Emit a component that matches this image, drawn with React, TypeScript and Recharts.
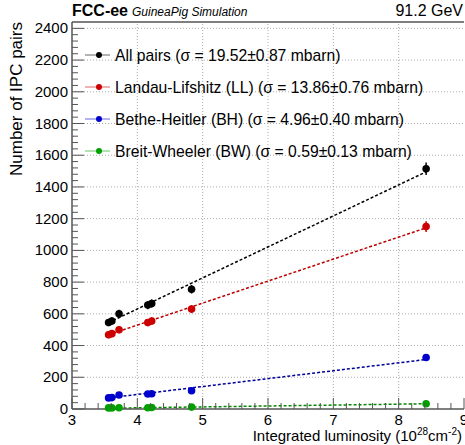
import {
  ComposedChart,
  Scatter,
  Line,
  XAxis,
  YAxis,
  ErrorBar,
  ReferenceLine,
} from "recharts";

// integrated luminosity of each run (10^28 cm^-2)
const lumi = [3.56, 3.61, 3.72, 4.16, 4.22, 4.83, 8.42];

const allPairs = [545, 555, 600, 655, 665, 755, 1515];
const allErr = [23, 24, 25, 26, 26, 27, 39];
const llPairs = [468, 475, 500, 545, 555, 630, 1150];
const llErr = [22, 22, 22, 23, 24, 25, 34];
const bhPairs = [70, 72, 88, 95, 96, 115, 325];
const bhErr = [8, 8, 9, 10, 10, 11, 18];
const bwPairs = [7, 7, 8, 8, 9, 12, 33];
const bwErr = [3, 3, 3, 3, 3, 3, 6];

// fit line end points (first and last luminosity)
const fitX = [3.56, 8.42];
const fitAll = [545, 1495];
const fitLL = [468, 1142];
const fitBH = [70, 312];
const fitBW = [5, 33];

const legendLabels = [
  "All pairs (σ = 19.52±0.87 mbarn)",
  "Landau-Lifshitz (LL) (σ = 13.86±0.76 mbarn)",
  "Bethe-Heitler (BH) (σ = 4.96±0.40 mbarn)",
  "Breit-Wheeler (BW) (σ = 0.59±0.13 mbarn)",
];
const colors = ["#000000", "#cc0000", "#0000cc", "#00a000"];
const fitColors = ["#000000", "#bb0000", "#000099", "#008800"];

const xMajor = [4, 5, 6, 7, 8];
const yMajor = [200, 400, 600, 800, 1000, 1200, 1400, 1600, 1800, 2000, 2200, 2400];
const xTicks = Array.from({ length: 31 }, (_, i) => Math.round((3 + i * 0.2) * 10) / 10);
const yTicks = Array.from({ length: 61 }, (_, i) => i * 40);

const toPoints = (ys: number[], es: number[]) =>
  lumi.map((x, i) => ({ x, y: ys[i], e: es[i] }));
const toFit = (ys: number[]) => fitX.map((x, i) => ({ x, y: ys[i] }));

const series = [
  { pts: toPoints(allPairs, allErr), fit: toFit(fitAll) },
  { pts: toPoints(llPairs, llErr), fit: toFit(fitLL) },
  { pts: toPoints(bhPairs, bhErr), fit: toFit(fitBH) },
  { pts: toPoints(bwPairs, bwErr), fit: toFit(fitBW) },
];

const FONT = "'Liberation Sans', Arial, Helvetica, sans-serif";
const AXIS = "#555";

function XTick(props: any) {
  const { x, y, payload } = props;
  const v = payload.value;
  const major = Math.abs(v - Math.round(v)) < 1e-6;
  return (
    <g>
      <line x1={x} x2={x} y1={y} y2={y - (major ? 11 : 6)} stroke={AXIS} />
      {major && (
        <text x={x} y={y + 16} textAnchor="middle" fontSize={15} fill="#000" fontFamily={FONT}>
          {Math.round(v)}
        </text>
      )}
    </g>
  );
}

function YTick(props: any) {
  const { x, y, payload } = props;
  const v = payload.value;
  const major = v % 200 === 0;
  return (
    <g>
      <line x1={x} x2={x + (major ? 12 : 6)} y1={y} y2={y} stroke={AXIS} />
      {major && (
        <text x={x - 4} y={y + 5} textAnchor="end" fontSize={15} fill="#000" fontFamily={FONT}>
          {v}
        </text>
      )}
    </g>
  );
}

export default function App() {
  const dot = (c: string) => (p: any) => <circle cx={p.cx} cy={p.cy} r={3.8} fill={c} />;
  return (
    <div style={{ position: "absolute", left: 0, top: 0, width: 465, height: 445, background: "#fff", fontFamily: FONT }}>
      <ComposedChart width={465} height={445} margin={{ top: 22, right: 1, bottom: 6, left: 12 }}>
        <XAxis
          dataKey="x"
          type="number"
          domain={[3, 9]}
          ticks={xTicks}
          interval={0}
          tickSize={0}
          tickMargin={0}
          height={30}
          tick={<XTick />}
          axisLine={{ stroke: AXIS, strokeWidth: 1.5 }}
        />
        <YAxis
          dataKey="y"
          type="number"
          domain={[0, 2440]}
          ticks={yTicks}
          interval={0}
          tickSize={0}
          tickMargin={0}
          width={60}
          tick={<YTick />}
          axisLine={{ stroke: AXIS, strokeWidth: 1.5 }}
        />
        {xMajor.map((v) => (
          <ReferenceLine key={"gx" + v} x={v} stroke="#aaa" strokeDasharray="1 2" />
        ))}
        {yMajor.map((v) => (
          <ReferenceLine key={"gy" + v} y={v} stroke="#aaa" strokeDasharray="1 2" />
        ))}
        <ReferenceLine y={2440} stroke={AXIS} strokeWidth={1.5} />
        {series.map((s, i) => (
          <Line
            key={"f" + i}
            data={s.fit}
            dataKey="y"
            type="linear"
            stroke={fitColors[i]}
            strokeWidth={1.5}
            strokeDasharray="3 2"
            dot={false}
            activeDot={false}
            isAnimationActive={false}
          />
        ))}
        {series.map((s, i) => (
          <Scatter key={"s" + i} data={s.pts} fill={colors[i]} shape={dot(colors[i])} isAnimationActive={false}>
            <ErrorBar dataKey="e" direction="y" width={0} stroke={colors[i]} strokeWidth={1.5} />
          </Scatter>
        ))}
      </ComposedChart>
      <svg width={465} height={445} style={{ position: "absolute", left: 0, top: 0, pointerEvents: "none" }}>
        <text x={72} y={16} fontSize={16} fontWeight="bold" fontFamily={FONT}>
          FCC-ee
          <tspan dx={4} fontSize={12} fontWeight="normal" fontStyle="italic">
            GuineaPig Simulation
          </tspan>
        </text>
        <text x={463} y={16} fontSize={16} textAnchor="end" fontFamily={FONT}>
          91.2 GeV
        </text>
        <text transform="rotate(-90)" x={-22} y={22} fontSize={17} textAnchor="end" fontFamily={FONT}>
          Number of IPC pairs
        </text>
        <text x={462} y={441} fontSize={15} textAnchor="end" fontFamily={FONT}>
          Integrated luminosity (10
          <tspan fontSize={10} dy={-6}>28</tspan>
          <tspan dy={6}>cm</tspan>
          <tspan fontSize={10} dy={-6}>-2</tspan>
          <tspan dy={6}>)</tspan>
        </text>
        {legendLabels.map((l, i) => (
          <g key={l}>
            <line x1={85} x2={110} y1={55 + i * 32} y2={55 + i * 32} stroke={colors[i]} strokeOpacity={0.6} />
            <circle cx={99} cy={55 + i * 32} r={3} fill={colors[i]} />
            <text x={115} y={61 + i * 32} fontSize={15.7} fontFamily={FONT}>
              {l}
            </text>
          </g>
        ))}
      </svg>
    </div>
  );
}
